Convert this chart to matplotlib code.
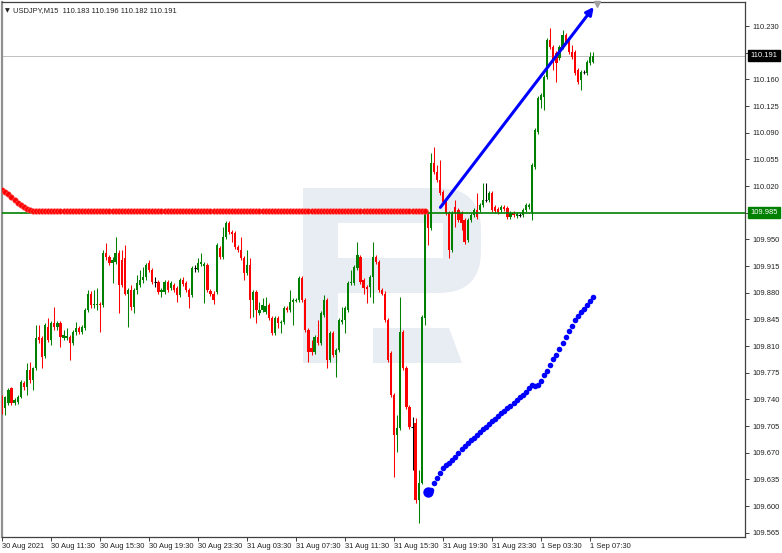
import numpy as np
import matplotlib.pyplot as plt
from matplotlib.patches import FancyBboxPatch, Rectangle, Polygon

plt.rcParams['font.family'] = ['Liberation Sans', 'DejaVu Sans']

# USDJPY M15 candles
opens = [109.743, 109.729, 109.735, 109.755, 109.735, 109.737, 109.743, 109.761, 109.756, 109.778,
         109.765, 109.781, 109.822, 109.820, 109.797, 109.835, 109.818, 109.840, 109.835, 109.840,
         109.820, 109.820, 109.822, 109.814, 109.828, 109.834, 109.828, 109.834, 109.857, 109.879,
         109.864, 109.864, 109.865, 109.864, 109.932, 109.927, 109.919, 109.920, 109.932, 109.923,
         109.925, 109.879, 109.883, 109.861, 109.883, 109.890, 109.897, 109.901, 109.919, 109.910,
         109.894, 109.894, 109.881, 109.881, 109.894, 109.886, 109.890, 109.886, 109.877, 109.897,
         109.893, 109.883, 109.877, 109.912, 109.910, 109.918, 109.915, 109.916, 109.882, 109.879,
         109.881, 109.939, 109.927, 109.953, 109.971, 109.960, 109.958, 109.940, 109.936, 109.925,
         109.906, 109.916, 109.870, 109.881, 109.853, 109.857, 109.855, 109.864, 109.847, 109.827,
         109.847, 109.840, 109.841, 109.860, 109.857, 109.868, 109.869, 109.870, 109.899, 109.870,
         109.831, 109.807, 109.802, 109.822, 109.814, 109.851, 109.870, 109.792, 109.827, 109.798,
         109.805, 109.841, 109.844, 109.857, 109.893, 109.893, 109.912, 109.927, 109.897, 109.887,
         109.887, 109.901, 109.927, 109.920, 109.883, 109.879, 109.844, 109.801, 109.746, 109.693,
         109.702, 109.828, 109.781, 109.730, 109.704, 109.709, 109.608, 109.631, 109.847, 109.984,
         109.965, 110.050, 110.038, 110.028, 110.012, 110.002, 109.984, 109.936, 109.992, 109.988,
         109.984, 109.975, 109.949, 109.975, 109.982, 109.988, 109.988, 109.995, 110.002, 110.002,
         110.011, 109.992, 109.990, 109.988, 109.992, 109.991, 109.979, 109.984, 109.981, 109.982,
         109.982, 109.988, 109.992, 109.986, 110.045, 110.091, 110.133, 110.137, 110.163, 110.212,
         110.202, 110.194, 110.188, 110.202, 110.218, 110.209, 110.196, 110.196, 110.172, 110.159,
         110.170, 110.168, 110.181, 110.183]
highs = [109.746, 109.744, 109.755, 109.756, 109.742, 109.746, 109.765, 109.764, 109.788, 109.789,
         109.782, 109.838, 109.838, 109.823, 109.840, 109.847, 109.843, 109.861, 109.843, 109.843,
         109.831, 109.834, 109.824, 109.831, 109.841, 109.836, 109.838, 109.860, 109.883, 109.882,
         109.883, 109.886, 109.868, 109.936, 109.945, 109.929, 109.927, 109.953, 109.936, 109.936,
         109.943, 109.886, 109.890, 109.886, 109.903, 109.910, 109.914, 109.919, 109.923, 109.912,
         109.901, 109.897, 109.886, 109.897, 109.897, 109.895, 109.893, 109.889, 109.899, 109.901,
         109.895, 109.886, 109.915, 109.916, 109.925, 109.932, 109.920, 109.919, 109.885, 109.882,
         109.945, 109.941, 109.966, 109.974, 109.974, 109.962, 109.961, 109.943, 109.953, 109.928,
         109.936, 109.925, 109.883, 109.883, 109.868, 109.873, 109.874, 109.866, 109.849, 109.849,
         109.849, 109.844, 109.862, 109.862, 109.883, 109.873, 109.873, 109.902, 109.902, 109.873,
         109.834, 109.818, 109.824, 109.844, 109.856, 109.877, 109.873, 109.830, 109.830, 109.807,
         109.847, 109.861, 109.862, 109.895, 109.910, 109.916, 109.946, 109.929, 109.899, 109.890,
         109.903, 109.946, 109.929, 109.923, 109.886, 109.882, 109.847, 109.803, 109.748, 109.719,
         109.874, 109.831, 109.784, 109.733, 109.717, 109.716, 109.647, 109.851, 109.988, 109.987,
         110.063, 110.071, 110.048, 110.054, 110.015, 110.004, 109.987, 109.987, 110.002, 109.991,
         109.987, 109.978, 109.978, 109.984, 109.991, 110.011, 109.998, 110.024, 110.024, 110.013,
         110.013, 109.995, 109.992, 109.995, 109.995, 109.994, 109.987, 109.987, 109.986, 109.984,
         109.991, 109.998, 109.998, 110.050, 110.096, 110.138, 110.142, 110.166, 110.214, 110.227,
         110.205, 110.197, 110.205, 110.225, 110.221, 110.212, 110.205, 110.198, 110.175, 110.172,
         110.172, 110.185, 110.196, 110.196]
lows = [109.721, 109.719, 109.733, 109.733, 109.733, 109.734, 109.742, 109.752, 109.746, 109.761,
        109.752, 109.778, 109.814, 109.781, 109.794, 109.815, 109.811, 109.831, 109.831, 109.809,
        109.818, 109.818, 109.792, 109.811, 109.824, 109.826, 109.826, 109.831, 109.855, 109.860,
        109.860, 109.857, 109.828, 109.861, 109.923, 109.916, 109.893, 109.918, 109.853, 109.887,
        109.877, 109.835, 109.857, 109.853, 109.879, 109.887, 109.893, 109.897, 109.907, 109.891,
        109.887, 109.878, 109.874, 109.878, 109.881, 109.883, 109.881, 109.868, 109.874, 109.889,
        109.881, 109.860, 109.874, 109.907, 109.907, 109.915, 109.866, 109.881, 109.876, 109.865,
        109.878, 109.924, 109.924, 109.950, 109.957, 109.946, 109.937, 109.933, 109.923, 109.897,
        109.903, 109.847, 109.848, 109.840, 109.851, 109.855, 109.852, 109.844, 109.824, 109.824,
        109.834, 109.827, 109.839, 109.855, 109.855, 109.838, 109.868, 109.868, 109.868, 109.828,
        109.789, 109.798, 109.799, 109.811, 109.811, 109.848, 109.781, 109.789, 109.796, 109.769,
        109.802, 109.839, 109.827, 109.855, 109.890, 109.890, 109.910, 109.891, 109.879, 109.866,
        109.874, 109.866, 109.918, 109.881, 109.877, 109.841, 109.789, 109.743, 109.638, 109.671,
        109.700, 109.778, 109.727, 109.701, 109.647, 109.604, 109.578, 109.629, 109.838, 109.943,
        109.962, 110.036, 110.025, 110.008, 109.996, 109.982, 109.925, 109.933, 109.966, 109.973,
        109.962, 109.944, 109.946, 109.973, 109.979, 109.977, 109.986, 109.992, 109.999, 109.999,
        109.986, 109.984, 109.983, 109.986, 109.987, 109.977, 109.977, 109.979, 109.978, 109.979,
        109.979, 109.986, 109.990, 109.975, 110.042, 110.088, 110.122, 110.120, 110.160, 110.200,
        110.172, 110.156, 110.185, 110.200, 110.206, 110.193, 110.187, 110.166, 110.154, 110.146,
        110.167, 110.166, 110.179, 110.182]
closes = [109.726, 109.743, 109.752, 109.735, 109.739, 109.743, 109.763, 109.756, 109.778, 109.765,
          109.781, 109.820, 109.818, 109.796, 109.838, 109.818, 109.840, 109.835, 109.840, 109.822,
          109.824, 109.823, 109.814, 109.828, 109.834, 109.828, 109.835, 109.857, 109.879, 109.864,
          109.865, 109.865, 109.864, 109.932, 109.927, 109.919, 109.923, 109.932, 109.890, 109.890,
          109.879, 109.883, 109.861, 109.883, 109.893, 109.897, 109.901, 109.916, 109.910, 109.894,
          109.894, 109.881, 109.883, 109.894, 109.883, 109.893, 109.883, 109.877, 109.897, 109.891,
          109.883, 109.874, 109.912, 109.912, 109.919, 109.920, 109.918, 109.883, 109.878, 109.870,
          109.943, 109.927, 109.953, 109.971, 109.960, 109.957, 109.940, 109.936, 109.925, 109.906,
          109.916, 109.870, 109.881, 109.857, 109.857, 109.864, 109.862, 109.847, 109.827, 109.847,
          109.840, 109.841, 109.860, 109.857, 109.868, 109.870, 109.870, 109.899, 109.870, 109.831,
          109.802, 109.802, 109.822, 109.814, 109.853, 109.870, 109.792, 109.827, 109.798, 109.805,
          109.844, 109.844, 109.860, 109.893, 109.894, 109.914, 109.929, 109.894, 109.886, 109.885,
          109.901, 109.927, 109.920, 109.883, 109.879, 109.844, 109.792, 109.746, 109.693, 109.702,
          109.828, 109.781, 109.730, 109.704, 109.704, 109.608, 109.631, 109.848, 109.984, 109.965,
          110.050, 110.038, 110.028, 110.011, 109.999, 109.984, 109.936, 109.984, 109.984, 109.975,
          109.971, 109.946, 109.975, 109.982, 109.988, 109.979, 109.995, 110.002, 110.002, 110.011,
          109.988, 109.987, 109.986, 109.992, 109.990, 109.979, 109.984, 109.982, 109.983, 109.982,
          109.988, 109.995, 109.995, 110.048, 110.093, 110.135, 110.139, 110.163, 110.212, 110.202,
          110.185, 110.181, 110.202, 110.218, 110.209, 110.196, 110.189, 110.168, 110.156, 110.170,
          110.170, 110.183, 110.189, 110.191]

# red dotted indicator (from the first bar up to the breakout)
red_dots = [110.015, 110.012, 110.009, 110.005, 110.002, 109.998, 109.995, 109.992, 109.990, 109.988] + [109.987] * 129

# blue dotted indicator, starts at bar 139
blue_start = 139
blue_dots = [109.618, 109.621, 109.630, 109.637, 109.643, 109.650, 109.654, 109.656, 109.660, 109.664,
             109.670, 109.675, 109.679, 109.683, 109.687, 109.689, 109.693, 109.697, 109.701, 109.704,
             109.708, 109.712, 109.714, 109.718, 109.722, 109.725, 109.729, 109.731, 109.735, 109.739,
             109.743, 109.746, 109.750, 109.755, 109.759, 109.757, 109.759, 109.764, 109.772, 109.777,
             109.785, 109.793, 109.798, 109.806, 109.814, 109.822, 109.830, 109.836, 109.844, 109.849,
             109.855, 109.859, 109.864, 109.869, 109.874]

level = 109.985
bid = 110.191
arrow_from = (143.1, 109.992)
arrow_to = (193.2, 110.255)

time_labels = ['30 Aug 2021', '30 Aug 11:30', '30 Aug 15:30', '30 Aug 19:30', '30 Aug 23:30',
               '31 Aug 03:30', '31 Aug 07:30', '31 Aug 11:30', '31 Aug 15:30', '31 Aug 19:30',
               '31 Aug 23:30', '1 Sep 03:30', '1 Sep 07:30']
price_ticks = ['109.565', '109.600', '109.635', '109.670', '109.705', '109.740', '109.775',
               '109.810', '109.845', '109.880', '109.915', '109.950', '109.985', '110.020',
               '110.055', '110.090', '110.125', '110.160', '110.195', '110.230']
# labels hidden under the price boxes
hidden = ['109.985', '110.195']

W, H = 782, 553
fig = plt.figure(figsize=(W / 100, H / 100), dpi=100)
ax = fig.add_axes([2 / W, 16 / H, 743 / W, 535 / H])
ax.set_xlim(-0.1, 242.6)
ax.set_ylim(109.5595, 110.2615)


def px(x, y):
    # pixel (from top-left) -> inches for dpi_scale_trans
    return (x / 100, (H - y) / 100)


# watermark logo
wm = '#e8ecf3'
tr = fig.dpi_scale_trans
ax.add_patch(FancyBboxPatch(px(303, 293), 1.78, 1.05, boxstyle='round,pad=0,rounding_size=0.42',
                            fc=wm, ec='none', transform=tr, zorder=0))
ax.add_patch(Rectangle(px(303, 293), 0.7, 1.05, fc=wm, ec='none', transform=tr, zorder=0))
ax.add_patch(Rectangle(px(303, 363), 0.35, 1.75, fc=wm, ec='none', transform=tr, zorder=0))
ax.add_patch(Rectangle(px(338, 258), 1.05, 0.35, fc='white', ec='none', transform=tr, zorder=0.1))
ax.add_patch(Polygon([px(373, 328), px(449, 328), px(462, 363), px(373, 363)], closed=True,
                     fc=wm, ec='none', transform=tr, zorder=0))

# candles
idx = np.arange(len(closes))
for i in idx:
    o, h, l, c = opens[i], highs[i], lows[i], closes[i]
    if c > o:
        col = '#008000'
    elif c < o:
        col = '#ff0000'
    else:
        col = 'black'
    ax.vlines(i, l, h, color=col, lw=0.75, zorder=3)
    if c == o:
        ax.hlines(o, i - 0.45, i + 0.45, color=col, lw=0.75, zorder=3)
    else:
        ax.bar(i, abs(c - o), bottom=min(o, c), width=0.72, color=col, lw=0, zorder=3)

# levels
ax.axhline(level, color='#008000', lw=1.2, zorder=4)
ax.axhline(bid, color='#c0c0c0', lw=0.7, zorder=1)

ax.plot(np.arange(len(red_dots)), red_dots, 'o', color='#ff0000', ms=4, mec='#ff6060', mew=0.4, zorder=5)
bx = np.arange(blue_start, blue_start + len(blue_dots))
ax.plot(bx, blue_dots, 'o', color='#0000ff', ms=4, mew=0, zorder=5)
ax.plot(bx[0], blue_dots[0], 'o', color='#0000ff', ms=7.5, mew=0, zorder=5)

ax.annotate('', xy=arrow_to, xytext=arrow_from,
            arrowprops=dict(arrowstyle='-|>', color='#0000ff', lw=2.2, mutation_scale=11,
                            shrinkA=0, shrinkB=0), zorder=6)
ax.plot(194.3, 110.2585, marker='v', color='#a0a0a0', ms=5, clip_on=False, zorder=7)

# axes styling
for s in ax.spines.values():
    s.set_color('#404040')
    s.set_linewidth(0.9)
ax.spines['left'].set_color('#909090')
ax.spines['left'].set_linewidth(1.6)

ax.yaxis.tick_right()
ax.set_yticks([float(t) for t in price_ticks])
ax.set_yticklabels(['' if t in hidden else t for t in price_ticks])
ax.tick_params(axis='y', length=3, width=0.6, pad=2.5, labelsize=5.4, colors='#202020')
ax.set_xticks(np.arange(0, 193, 16))
ax.set_xticklabels(time_labels, ha='left')
ax.tick_params(axis='x', length=3, width=0.6, pad=1.5, labelsize=5.4, colors='#202020')

# price boxes on the right
ax.annotate(f'{bid:.3f}', xy=(1.0, bid), xycoords=('axes fraction', 'data'), xytext=(4, 0),
            textcoords='offset points', fontsize=5.4, color='white', va='center', ha='left',
            bbox=dict(boxstyle='square,pad=0.3', fc='black', ec='black'), annotation_clip=False)
ax.annotate(f'{level:.3f}', xy=(1.0, level), xycoords=('axes fraction', 'data'), xytext=(4, 0),
            textcoords='offset points', fontsize=5.4, color='white', va='center', ha='left',
            bbox=dict(boxstyle='square,pad=0.3', fc='#008000', ec='#008000'), annotation_clip=False)

# header
fig.text(5 / W, 1 - 11 / H, '\u25bc', fontsize=4.5, color='#202020', va='center', ha='left',
         family=['DejaVu Sans'])
fig.text(13 / W, 1 - 11 / H, 'USDJPY,M15  110.183 110.196 110.182 110.191', fontsize=5.4,
         color='#202020', va='center', ha='left')

fig.savefig('out.png', dpi=100)
